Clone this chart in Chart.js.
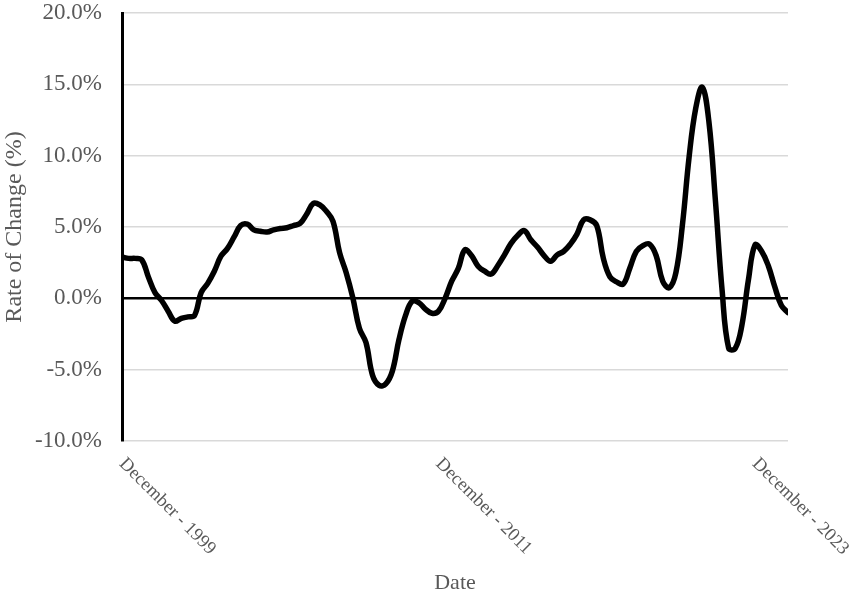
<!DOCTYPE html>
<html>
<head>
<meta charset="utf-8">
<script src="https://cdn.jsdelivr.net/npm/chart.js@4"></script>
<style>
  html, body { margin: 0; padding: 0; background: #fff; }
</style>
</head>
<body>
<canvas id="rateChart" width="851" height="597"></canvas>
<script>
// quarterly readings, starting December 1999 (one value every 3 months)
const rateValues = [
  2.9, 2.8, 2.8, 2.7, 1.5, 0.4, -0.15, -0.9, -1.6, -1.4,
  -1.3, -1.2, 0.4, 1.05, 1.9, 2.95, 3.5, 4.3, 5.1, 5.2,
  4.8, 4.7, 4.65, 4.8, 4.9, 4.95, 5.1, 5.25, 5.9, 6.65,
  6.55, 6.1, 5.4, 3.2, 1.8, 0.05, -2.1, -3.1, -5.4, -6.1,
  -6.0, -5.1, -2.9, -1.2, -0.2, -0.3, -0.75, -1.05, -0.9, 0.0,
  1.2, 2.1, 3.4, 3.0, 2.25, 1.9, 1.7, 2.3, 3.05, 3.85,
  4.4, 4.75, 4.1, 3.6, 3.0, 2.6, 3.05, 3.3, 3.8, 4.5,
  5.5, 5.5, 5.1, 2.8, 1.5, 1.15, 1.0, 2.1, 3.3, 3.7,
  3.8, 3.0, 1.2, 0.75, 1.8, 5.2, 9.9, 13.3, 14.8, 12.4,
  6.8, 0.6, -3.5, -3.5, -1.9, 1.3, 3.75, 3.3, 2.3, 0.8,
  -0.5, -1.0
];
const monthStep = 3;
// labelled categories (months counted from December 1999)
const tickMonths = [0, 144, 288];
const tickLabels = ['December - 1999', 'December - 2011', 'December - 2023'];
const yTicks = [-10, -5, 0, 5, 10, 15, 20];

const points = rateValues.map((v, i) => ({ x: i * monthStep, y: v }));
const lastMonth = (rateValues.length - 1) * monthStep;

const grey = '#595959';
const serif = "'Liberation Serif', 'Times New Roman', serif";

// x labels are slanted down to the right, starting at their tick
const slantedLabels = {
  id: 'slantedLabels',
  afterDraw(chart) {
    const ctx = chart.ctx;
    const xs = chart.scales.x;
    const top = chart.chartArea.bottom + 20;
    ctx.save();
    ctx.fillStyle = grey;
    ctx.font = "18.5px " + serif;
    ctx.textAlign = 'left';
    ctx.textBaseline = 'middle';
    tickMonths.forEach((m, i) => {
      const px = xs.getPixelForValue(m);
      ctx.save();
      ctx.translate(px, top);
      ctx.rotate(Math.PI / 4);
      ctx.fillText(tickLabels[i], 0, 0);
      ctx.restore();
    });
    ctx.restore();
  }
};

const ctx = document.getElementById('rateChart').getContext('2d');
const rateChart = new Chart(ctx, {
  type: 'line',
  data: {
    datasets: [{
      data: points,
      borderColor: '#000',
      borderWidth: 5.5,
      pointRadius: 0,
      tension: 0.4,
      borderCapStyle: 'round',
      borderJoinStyle: 'round',
      fill: false
    }]
  },
  options: {
    responsive: false,
    animation: false,
    layout: { padding: { top: 13, right: 63, left: 0, bottom: 0 } },
    plugins: {
      legend: { display: false },
      tooltip: { enabled: false }
    },
    scales: {
      x: {
        type: 'linear',
        min: 0,
        max: lastMonth,
        grid: { display: false },
        border: { display: false },
        ticks: { display: false },
        title: {
          display: true,
          text: 'Date',
          color: grey,
          font: { family: serif, size: 22 },
          padding: { top: 0, bottom: 1 }
        },
        afterFit(scale) {
          scale.height = 156;
          scale.paddingLeft = 0;
          scale.paddingRight = 0;
        }
      },
      y: {
        min: -10,
        max: 20,
        afterBuildTicks(scale) { scale.ticks = yTicks.map(v => ({ value: v })); },
        grid: {
          drawTicks: false,
          color: c => (c.tick && c.tick.value === 0 ? '#000' : '#d9d9d9'),
          lineWidth: c => (c.tick && c.tick.value === 0 ? 2.5 : 1.5)
        },
        border: { display: true, color: '#000', width: 3 },
        ticks: {
          color: grey,
          padding: 20,
          font: { family: serif, size: 23 },
          callback: v => v.toFixed(1) + '%'
        },
        title: {
          display: true,
          text: 'Rate of Change (%)',
          color: grey,
          font: { family: serif, size: 24 },
          padding: { top: 0, bottom: 0 }
        },
        afterFit(scale) {
          scale.width = 122;
          scale.paddingTop = 0;
          scale.paddingBottom = 0;
        }
      }
    }
  },
  plugins: [slantedLabels]
});
</script>
</body>
</html>
